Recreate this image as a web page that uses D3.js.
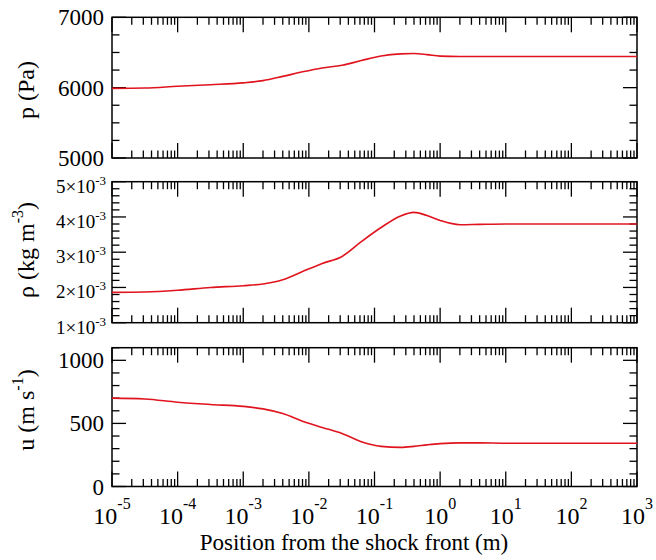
<!DOCTYPE html>
<html><head><meta charset="utf-8">
<script src="https://cdn.jsdelivr.net/npm/d3@7"></script>
</head>
<body style="margin:0">
<svg id="chart" width="656" height="560"></svg>
<script>
// ---------- data ----------
const positions = [1e-5, 3.16e-5, 1e-4, 3.16e-4, 1e-3, 2e-3, 4e-3, 8e-3, 0.016, 0.032, 0.063, 0.126, 0.25, 0.4, 0.63, 1, 2, 4, 10, 100, 1000];
const pressure = [5990, 5995, 6020, 6042, 6068, 6100, 6160, 6225, 6280, 6318, 6385, 6450, 6480, 6485, 6470, 6448, 6442, 6442, 6442, 6442, 6442];
const density = [1.86e-3, 1.87e-3, 1.92e-3, 2.00e-3, 2.05e-3, 2.10e-3, 2.22e-3, 2.45e-3, 2.68e-3, 2.88e-3, 3.30e-3, 3.70e-3, 4.03e-3, 4.13e-3, 4.04e-3, 3.90e-3, 3.78e-3, 3.79e-3, 3.80e-3, 3.80e-3, 3.80e-3];
const velocity = [700, 693, 668, 650, 635, 615, 578, 518, 468, 420, 355, 318, 310, 318, 330, 340, 346, 346, 343, 343, 343];

const xDomain = [1e-5, 1e3];
const xTickExps = [-5, -4, -3, -2, -1, 0, 1, 2, 3];
const pTicks = [5000, 6000, 7000];
const rhoTicks = [1, 2, 3, 4, 5];          // mantissas of ×10^-3
const uTicks = [0, 500, 1000];
const xTitle = "Position from the shock front (m)";

// ---------- layout ----------
const svg = d3.select("#chart").style("font-family", "Liberation Serif");
const L = 112, R = 637;
const x = d3.scaleLog().domain(xDomain).range([L, R]);
const red = "#e0141e";

function txt(sel) {
  return sel.append("text").attr("font-family", "Liberation Serif").style("font-family", "Liberation Serif");
}

const panels = [
  {top: 17.3, bottom: 158, domain: [5000, 7000], ticks: pTicks, minor: 250, values: pressure, kind: "p"},
  {top: 181.7, bottom: 322.7, domain: [1e-3, 5e-3], ticks: rhoTicks.map(m => m * 1e-3), minor: 0.2e-3, values: density, kind: "rho"},
  {top: 347.7, bottom: 486.5, domain: [0, 1100], ticks: uTicks, minor: 100, values: velocity, kind: "u"}
];

const xMinor = [];
for (let e = -5; e < 3; e++) for (let k = 2; k <= 9; k++) xMinor.push(k * Math.pow(10, e));
const xMajor = xTickExps.map(e => Math.pow(10, e));

panels.forEach(p => {
  const y = d3.scaleLinear().domain(p.domain).range([p.bottom, p.top]);
  const g = svg.append("g");
  const tl = g.append("g").attr("stroke", "#000").attr("stroke-width", 1.3);
  xMinor.forEach(v => {
    tl.append("line").attr("x1", x(v)).attr("x2", x(v)).attr("y1", p.top).attr("y2", p.top + 7.5);
    tl.append("line").attr("x1", x(v)).attr("x2", x(v)).attr("y1", p.bottom).attr("y2", p.bottom - 7.5);
  });
  xMajor.forEach(v => {
    tl.append("line").attr("x1", x(v)).attr("x2", x(v)).attr("y1", p.top).attr("y2", p.top + 15);
    tl.append("line").attr("x1", x(v)).attr("x2", x(v)).attr("y1", p.bottom).attr("y2", p.bottom - 15);
  });
  const n = Math.round((p.domain[1] - p.domain[0]) / p.minor);
  for (let i = 0; i <= n; i++) {
    const v = p.domain[0] + i * p.minor;
    const isMajor = p.ticks.some(t => Math.abs(t - v) < p.minor * 0.01);
    const len = isMajor ? 14 : 7.5;
    tl.append("line").attr("x1", L).attr("x2", L + len).attr("y1", y(v)).attr("y2", y(v));
    tl.append("line").attr("x1", R).attr("x2", R - len).attr("y1", y(v)).attr("y2", y(v));
  }
  g.append("rect").attr("x", L).attr("y", p.top).attr("width", R - L).attr("height", p.bottom - p.top)
    .attr("fill", "none").attr("stroke", "#000").attr("stroke-width", 1.5);
  const line = d3.line().x((d, i) => x(positions[i])).y(d => y(d)).curve(d3.curveMonotoneX);
  g.append("path").datum(p.values).attr("d", line).attr("fill", "none").attr("stroke", red).attr("stroke-width", 1.6);
  if (p.kind === "rho") {
    p.ticks.forEach((t, i) => {
      const tx = txt(g).attr("x", 106).attr("y", y(t) + 11).attr("text-anchor", "end").attr("font-size", 19);
      tx.append("tspan").text(rhoTicks[i] + "×10");
      tx.append("tspan").attr("font-size", 13).attr("dy", -8).text("-3");
    });
  } else {
    p.ticks.forEach(t => {
      txt(g).attr("x", 104).attr("y", y(t) + 8).attr("text-anchor", "end").attr("font-size", 23).text(t);
    });
  }
});

// y axis titles
txt(svg).attr("transform", "translate(34,90) rotate(-90)").attr("text-anchor", "middle").attr("font-size", 24).text("p (Pa)");
const t2 = txt(svg).attr("transform", "translate(34,250) rotate(-90)").attr("text-anchor", "middle").attr("font-size", 24);
t2.append("tspan").text("ρ (kg m");
t2.append("tspan").attr("font-size", 16).attr("dy", -11).text("-3");
t2.append("tspan").attr("dy", 11).text(")");
const t3 = txt(svg).attr("transform", "translate(34,410) rotate(-90)").attr("text-anchor", "middle").attr("font-size", 24);
t3.append("tspan").text("u (m s");
t3.append("tspan").attr("font-size", 16).attr("dy", -11).text("-1");
t3.append("tspan").attr("dy", 11).text(")");

// x tick labels
xTickExps.forEach(e => {
  const tx = txt(svg).attr("x", x(Math.pow(10, e))).attr("y", 524).attr("text-anchor", "middle").attr("font-size", 24);
  tx.append("tspan").text("10");
  tx.append("tspan").attr("font-size", 16).attr("dy", -15).text(String(e));
});

// x title
txt(svg).attr("x", 354).attr("y", 550).attr("text-anchor", "middle").attr("font-size", 23).text(xTitle);
</script>
</body></html>
